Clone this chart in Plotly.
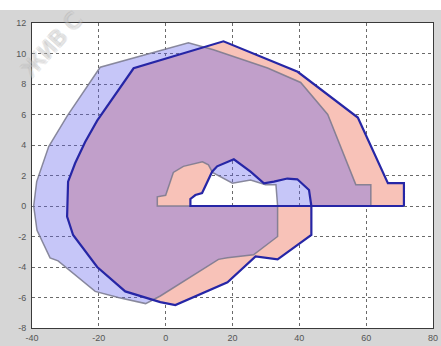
import plotly.graph_objects as go

# Pink region (outlined in dark blue): outer contour CCW, then inner hole
pink_x = [71.3, 71.3, 66.5, 59.3, 57.5, 39.5, 17.3, -9.6, -20.5, -24.1, -27.1, -29.2, -29.5,
          -29.5, -27.7, -20.5, -12.1, -1.6, 2.9, 18.5, 26.9, 33.5, 43.6, 43.6,
          7.4, 7.4, 8.9, 10.9, 13.9, 15.4, 20.4, 25.4, 29.4, 32.4, 36.4, 39.4, 42.9, 43.6, 71.3]
pink_y = [0.0, 1.5, 1.5, 4.9, 5.8, 8.8, 10.8, 9.03, 5.6, 4.2, 2.8, 1.6, 0.2,
          -0.7, -1.9, -4.0, -5.6, -6.3, -6.5, -5.0, -3.3, -3.5, -1.9, 0.0,
          0.0, 0.46, 0.72, 0.85, 2.25, 2.6, 3.06, 2.25, 1.49, 1.6, 1.8, 1.75, 1.05, 0.0, 0.0]

# Blue region (grey edge)
blue_x = [61.4, 61.4, 56.9, 55.4, 48.5, 40.4, 30.5, 14.3, 6.8, -19.6, -29.5, -35.0, -38.6,
          -39.5, -38.5, -34.6, -32.2, -21.1, -14.2, -6.0, -1.6, 15.8, 18.5, 26.3, 33.5, 33.5,
          -2.5, -2.5, 0.0, 2.3, 5.3, 11.0, 12.8, 14.0, 20.0, 25.4, 29.9, 33.0, 33.5, 61.4]
blue_y = [0.0, 1.4, 1.4, 2.2, 6.0, 8.1, 9.05, 10.25, 10.7, 9.1, 5.9, 3.9, 1.6,
          0.0, -1.6, -3.4, -3.6, -5.6, -6.0, -6.4, -5.9, -3.5, -3.4, -3.2, -2.0, 0.0,
          0.0, 0.6, 0.7, 2.2, 2.6, 2.9, 2.7, 2.2, 1.5, 1.7, 1.4, 1.4, 0.0, 0.0]

x_ticks = [-40, -20, 0, 20, 40, 60, 80]
x_tick_labels = ["-40", "-20", "0", "20", "40", "60", "80"]
y_ticks = [-8, -6, -4, -2, 0, 2, 4, 6, 8, 10, 12]
y_tick_labels = ["-8", "-6", "-4", "-2", "0", "2", "4", "6", "8", "10", "12"]

fig = go.Figure()
fig.add_trace(go.Scatter(x=pink_x, y=pink_y, fill="toself", mode="lines",
                         fillcolor="#f8c2b8", line=dict(width=0), hoverinfo="skip",
                         showlegend=False))
fig.add_trace(go.Scatter(x=blue_x, y=blue_y, fill="toself", mode="lines",
                         fillcolor="rgba(98,98,235,0.36)",
                         line=dict(color="rgba(120,120,140,0.85)", width=1.5),
                         hoverinfo="skip", showlegend=False))
fig.add_trace(go.Scatter(x=pink_x, y=pink_y, mode="lines",
                         line=dict(color="#2626a6", width=2.2),
                         hoverinfo="skip", showlegend=False))

axis_common = dict(showgrid=True, gridcolor="#6a6a6a", griddash="dot", gridwidth=1,
                   zeroline=False, showline=True, linecolor="#3a3a3a", linewidth=1,
                   mirror=True, ticks="", automargin=False,
                   tickfont=dict(family="Liberation Sans", size=9, color="#555555"))

fig.update_xaxes(range=[-40, 80], tickvals=x_ticks, ticktext=x_tick_labels,
                 ticklabelstandoff=1, **axis_common)
fig.update_yaxes(range=[-8, 12], tickvals=y_ticks, ticktext=y_tick_labels,
                 ticklabelstandoff=3, **axis_common)

fig.add_shape(type="rect", xref="paper", yref="paper", x0=-0.1, x1=1.1,
              y0=1.043, y1=1.2, fillcolor="white", line=dict(width=0), layer="above")

fig.add_annotation(text="ЖИВ С", xref="paper", yref="paper", x=0.05, y=0.93,
                   xanchor="center", yanchor="middle",
                   showarrow=False, textangle=-48,
                   font=dict(family="DejaVu Sans", size=22, color="rgba(255,255,255,0.2)",
                             shadow="-1px -1px 0 #a0a0a0, 1px -1px 0 #a0a0a0, -1px 1px 0 #a0a0a0, 1px 1px 0 #a0a0a0"))

fig.update_layout(width=441, height=346, margin=dict(l=32, r=8, t=23, b=18, autoexpand=False),
                  paper_bgcolor="#d6d6d6", plot_bgcolor="white", hovermode=False)

fig.write_html("out.html", config={"displayModeBar": False},
               post_script="document.body.style.margin='0';document.body.style.overflow='hidden';")
